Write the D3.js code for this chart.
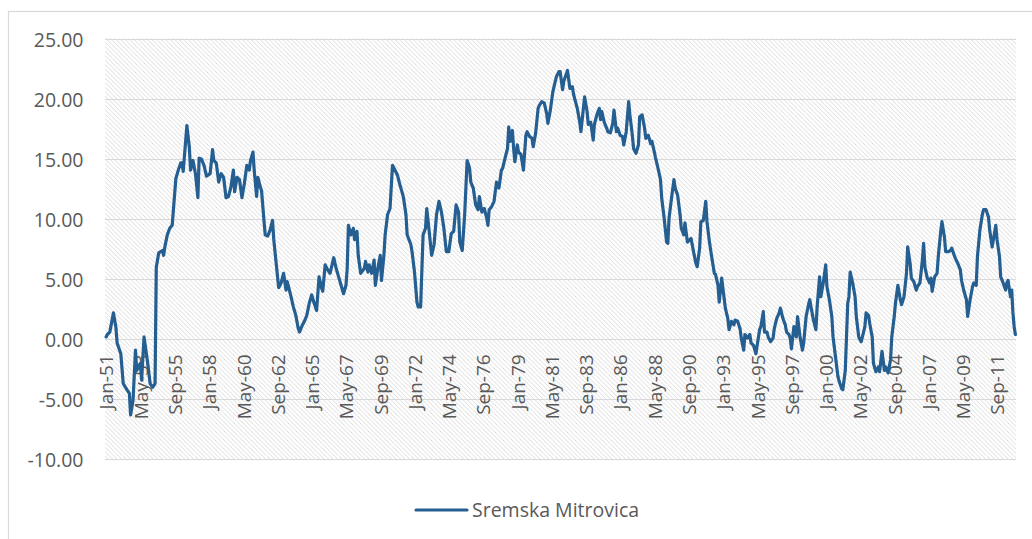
<!DOCTYPE html>
<html>
<head>
<meta charset="utf-8">
<script src="https://cdn.jsdelivr.net/npm/d3@7"></script>
<style>
  html, body { margin: 0; padding: 0; background: #ffffff; }
  svg { display: block; }
  text { font-family: "Open Sans", "Noto Sans", sans-serif; fill: #595959; }
</style>
</head>
<body>
<svg id="chart" width="1032" height="539"></svg>
<script>
// Series name shown in the legend
const seriesName = "Sremska Mitrovica";

// Months elapsed since January 1951 for each reading
const monthOffset = [
  0, 1, 3, 6, 8, 9, 12, 14, 17, 19, 20, 22, 24, 25, 28, 29, 31, 34, 36, 38,
  40, 41, 43, 46, 47, 48, 50, 52, 54, 55, 57, 59, 61, 62, 63, 66, 68, 69, 71, 73,
  75, 76, 78, 80, 82, 85, 87, 88, 90, 92, 94, 96, 98, 100, 102, 104, 105, 107, 109, 111,
  113, 115, 117, 118, 120, 121, 123, 124, 126, 127, 129, 130, 132, 134, 136, 137, 139, 141, 143, 145,
  147, 148, 151, 153, 155, 157, 158, 160, 162, 164, 166, 168, 170, 172, 174, 176, 177, 179, 181, 183,
  186, 188, 190, 192, 194, 196, 197, 198, 200, 202, 203, 205, 206, 208, 211, 212, 214, 215, 217, 219,
  220, 222, 224, 225, 227, 228, 230, 232, 234, 236, 238, 240, 242, 243, 245, 246, 249, 250, 252, 254,
  255, 257, 259, 261, 262, 264, 266, 268, 270, 272, 274, 276, 278, 280, 282, 284, 286, 288, 289, 291,
  293, 295, 297, 298, 300, 302, 304, 305, 307, 309, 311, 312, 313, 315, 317, 319, 321, 323, 324, 326,
  328, 329, 330, 332, 333, 334, 336, 337, 339, 341, 343, 344, 346, 348, 349, 351, 353, 354, 356, 358,
  360, 361, 363, 365, 366, 368, 370, 371, 373, 374, 377, 379, 381, 382, 385, 387, 388, 390, 391, 393,
  394, 396, 398, 399, 401, 403, 404, 405, 407, 409, 410, 412, 414, 415, 417, 418, 420, 422, 423, 425,
  427, 428, 430, 431, 433, 435, 436, 438, 440, 441, 443, 445, 446, 448, 449, 451, 453, 454, 456, 458,
  459, 460, 462, 464, 465, 467, 469, 470, 472, 473, 475, 477, 478, 480, 482, 483, 485, 486, 488, 490,
  491, 493, 495, 497, 498, 500, 501, 503, 504, 506, 508, 509, 511, 513, 514, 516, 518, 519, 521, 522,
  524, 526, 527, 529, 531, 532, 534, 535, 537, 538, 540, 541, 543, 545, 546, 548, 550, 551, 553, 555,
  556, 558, 559, 560, 562, 564, 565, 567, 569, 570, 572, 574, 575, 576, 578, 580, 581, 583, 584, 586,
  588, 589, 591, 593, 594, 596, 598, 599, 601, 602, 604, 606, 607, 608, 610, 612, 613, 615, 617, 618,
  620, 621, 623, 624, 626, 627, 629, 631, 632, 634, 636, 637, 639, 641, 642, 644, 645, 647, 649, 650,
  652, 654, 655, 657, 658, 660, 662, 663, 665, 667, 668, 669, 671, 673, 674, 675, 677, 679, 680, 682,
  683, 685, 686, 688, 690, 691, 693, 694, 696, 698, 699, 701, 703, 704, 706, 708, 709, 711, 712, 714,
  716, 717, 719, 721, 722, 724, 725, 727, 728, 730, 731, 733, 735, 736, 737, 739, 740, 741, 742, 743
];

// Readings for each month above
const values = [
  0.2, 0.4, 0.6, 2.2, 1.0, -0.3, -1.2, -3.7, -4.2, -4.5, -6.3, -5.1, -0.9, -2.6, -2.0, -3.4, 0.2, -2.0, -3.7, -4.0,
  -3.7, 6.0, 7.2, 7.4, 7.0, 7.7, 8.7, 9.25, 9.5, 10.8, 13.4, 14.1, 14.7, 14.7, 14.0, 17.8, 16.0, 14.1, 14.9, 13.8,
  11.8, 15.1, 15.0, 14.5, 13.6, 13.8, 15.8, 14.9, 14.7, 13.1, 13.8, 13.5, 11.8, 11.9, 12.7, 14.1, 12.3, 13.5, 13.3, 11.8,
  13.0, 14.5, 14.1, 14.9, 15.6, 14.1, 11.9, 13.5, 12.7, 12.4, 9.9, 8.7, 8.6, 9.1, 9.9, 8.3, 6.3, 4.3, 4.7, 5.5,
  4.1, 4.8, 3.6, 2.7, 2.0, 0.9, 0.6, 1.1, 1.5, 2.0, 3.0, 3.7, 3.0, 2.4, 5.2, 4.3, 4.0, 6.2, 5.8, 5.5,
  6.8, 5.9, 5.2, 4.5, 3.8, 4.5, 5.9, 9.5, 8.7, 9.25, 8.3, 9.0, 7.0, 5.5, 5.9, 6.5, 5.6, 6.2, 5.5, 6.6,
  4.5, 5.9, 7.0, 4.9, 7.0, 8.7, 10.4, 10.9, 14.5, 14.1, 13.7, 12.9, 12.2, 11.8, 10.4, 8.7, 7.9, 7.3, 5.6, 3.1,
  2.7, 2.7, 8.7, 9.25, 10.9, 9.0, 7.0, 7.9, 10.4, 11.5, 10.6, 9.25, 7.3, 7.3, 8.8, 9.0, 11.2, 10.6, 8.1, 7.4,
  10.4, 14.9, 14.25, 13.1, 12.6, 11.2, 10.8, 11.9, 10.6, 10.9, 10.1, 9.5, 10.8, 11.05, 11.5, 13.1, 12.6, 14.1, 14.25, 15.1,
  15.9, 17.7, 16.5, 17.4, 15.9, 14.8, 16.2, 15.6, 15.4, 14.1, 17.0, 17.3, 16.9, 16.75, 16.05, 17.2, 19.25, 19.5, 19.8, 19.7,
  18.8, 18.0, 19.1, 20.6, 21.05, 21.9, 22.3, 22.3, 20.8, 21.5, 22.4, 20.9, 21.05, 20.4, 19.25, 18.1, 17.3, 19.25, 20.2, 19.0,
  17.9, 18.1, 16.6, 17.9, 18.7, 19.25, 18.3, 19.0, 18.1, 17.6, 17.3, 17.2, 18.0, 19.1, 17.3, 17.6, 17.0, 16.9, 16.2, 17.3,
  19.8, 18.7, 17.0, 15.9, 15.5, 16.2, 18.55, 18.7, 17.6, 16.75, 17.0, 16.3, 16.5, 15.6, 15.1, 14.25, 13.3, 11.75, 10.1, 8.1,
  8.0, 10.1, 11.75, 13.3, 12.6, 12.0, 10.4, 9.25, 8.7, 9.7, 8.1, 8.3, 8.4, 7.3, 6.3, 6.05, 7.6, 9.8, 9.9, 11.5,
  9.8, 8.1, 6.75, 5.5, 5.4, 4.5, 3.1, 5.1, 4.25, 2.6, 1.75, 0.8, 1.5, 1.2, 1.6, 1.5, 0.9, 0.1, -0.9, 0.4,
  0.1, 0.4, -0.3, -0.5, -1.2, -0.5, 0.8, 1.05, 2.3, 0.6, 0.6, 0.2, -0.2, 0.1, 0.9, 1.75, 2.2, 2.6, 1.75, 1.2,
  0.6, 0.4, 0.1, -0.8, 1.05, 0.2, 1.9, 0.2, -0.9, -0.3, 1.9, 2.9, 3.3, 2.7, 1.6, 0.8, 2.7, 5.2, 3.55, 4.7,
  6.2, 4.4, 3.3, 1.9, 0.2, -1.45, -3.1, -3.5, -4.1, -4.2, -2.6, 3.0, 3.55, 5.6, 4.7, 3.55, 1.9, 0.2, -0.2, 0.2,
  1.05, 2.2, 2.0, 1.3, 0.2, -2.0, -2.7, -2.3, -2.7, -1.0, -2.6, -2.3, -2.8, -1.7, 0.2, 1.9, 3.0, 4.5, 3.3, 2.9,
  3.55, 5.5, 7.7, 6.3, 5.1, 4.8, 4.1, 4.4, 4.7, 6.6, 8.0, 6.05, 5.1, 4.7, 5.1, 4.0, 5.2, 5.5, 6.9, 9.0,
  9.8, 8.55, 7.3, 7.3, 7.4, 7.6, 7.0, 6.75, 6.3, 5.8, 4.9, 4.0, 3.3, 1.9, 3.3, 4.4, 4.7, 4.5, 6.9, 9.1,
  10.4, 10.8, 10.8, 10.2, 9.1, 7.7, 8.3, 9.5, 8.3, 6.9, 5.2, 4.7, 4.1, 4.7, 4.9, 3.55, 4.1, 2.2, 1.05, 0.4
];

// Category axis labels
const xTickLabels = [
  "Jan-51", "May-53", "Sep-55", "Jan-58", "May-60", "Sep-62", "Jan-65", "May-67", "Sep-69",
  "Jan-72", "May-74", "Sep-76", "Jan-79", "May-81", "Sep-83", "Jan-86", "May-88", "Sep-90",
  "Jan-93", "May-95", "Sep-97", "Jan-00", "May-02", "Sep-04", "Jan-07", "May-09", "Sep-11"
];

// Value axis ticks
const yTicks = [-10, -5, 0, 5, 10, 15, 20, 25];

const totalMonths = 744; // Jan 1951 .. Dec 2012
const monthNames = ["Jan","Feb","Mar","Apr","May","Jun","Jul","Aug","Sep","Oct","Nov","Dec"];

// "May-53" -> months since Jan 1951
function labelToOffset(lbl) {
  const [mon, yy] = lbl.split("-");
  const y2 = +yy;
  const year = y2 >= 50 ? 1900 + y2 : 2000 + y2;
  return (year - 1951) * 12 + monthNames.indexOf(mon);
}

const data = monthOffset.map((m, i) => ({ m, v: values[i] }));

const svg = d3.select("#chart");
const plot = { left: 105.5, right: 1016, top: 39.3, bottom: 459.3 };

const x = d3.scaleLinear().domain([-0.5, totalMonths - 0.5]).range([plot.left, plot.right]);
const y = d3.scaleLinear().domain([-10, 25]).range([plot.bottom, plot.top]);

// Hatched plot-area fill: thin downward diagonals on white
const defs = svg.append("defs");
const pat = defs.append("pattern")
  .attr("id", "hatch")
  .attr("patternUnits", "userSpaceOnUse")
  .attr("width", 4.5).attr("height", 4.5);
pat.append("rect").attr("width", 4.5).attr("height", 4.5).attr("fill", "#ffffff");
pat.append("path")
  .attr("d", "M-1,-1 L5.5,5.5 M-1,3.5 L1,5.5 M3.5,-1 L5.5,1")
  .attr("stroke", "#d7d7d7")
  .attr("stroke-width", 0.9);

// Chart-area frame
svg.append("rect")
  .attr("x", 8.5).attr("y", 11.5)
  .attr("width", 1040).attr("height", 560)
  .attr("fill", "none")
  .attr("stroke", "#d9d9d9")
  .attr("stroke-width", 1.2);

svg.append("rect")
  .attr("x", plot.left - 0.5).attr("y", plot.top - 1)
  .attr("width", plot.right - plot.left + 0.5)
  .attr("height", plot.bottom - plot.top + 2)
  .attr("fill", "url(#hatch)");

// Horizontal gridlines
svg.append("g")
  .selectAll("line")
  .data(yTicks)
  .join("line")
  .attr("x1", plot.left - 0.5).attr("x2", plot.right)
  .attr("y1", d => Math.round(y(d)) + 0.5)
  .attr("y2", d => Math.round(y(d)) + 0.5)
  .attr("stroke", "#d9d9d9")
  .attr("stroke-width", 1);

// Value axis labels
const yAxis = svg.append("g")
  .attr("transform", `translate(${plot.left - 22},0)`)
  .call(d3.axisLeft(y).tickValues(yTicks).tickSize(0).tickPadding(0)
    .tickFormat(d => d.toFixed(2)));
yAxis.select(".domain").remove();
yAxis.selectAll("text")
  .style("font-family", '"Open Sans", sans-serif')
  .style("font-size", "19.5px")
  .attr("fill", "#595959")
  .attr("dy", "0.36em");

// Category axis labels, rotated, sitting just under the zero line
const xAxis = svg.append("g")
  .attr("transform", `translate(0,${y(0)})`)
  .call(d3.axisBottom(x).tickValues(xTickLabels.map(labelToOffset)).tickSize(0)
    .tickFormat((d, i) => xTickLabels[i]));
xAxis.select(".domain").remove();
xAxis.selectAll("text")
  .style("font-family", '"Open Sans", sans-serif')
  .style("font-size", "19px")
  .attr("fill", "#595959")
  .attr("transform", "rotate(-90)")
  .attr("x", -15)
  .attr("y", 0)
  .attr("dy", "0.36em")
  .attr("text-anchor", "end");

// Series line
const line = d3.line()
  .x(d => x(d.m))
  .y(d => y(d.v))
  .curve(d3.curveLinear);

svg.append("path")
  .datum(data)
  .attr("d", line)
  .attr("fill", "none")
  .attr("stroke", "#255e91")
  .attr("stroke-width", 3.2)
  .attr("stroke-linejoin", "round")
  .attr("stroke-linecap", "round");

// Legend
const legend = svg.append("g");
legend.append("line")
  .attr("x1", 416).attr("x2", 467)
  .attr("y1", 510).attr("y2", 510)
  .attr("stroke", "#255e91")
  .attr("stroke-width", 3.2)
  .attr("stroke-linecap", "round");
legend.append("text")
  .attr("x", 472).attr("y", 510)
  .attr("dy", "0.36em")
  .style("font-size", "19.5px")
  .text(seriesName);
</script>
</body>
</html>
